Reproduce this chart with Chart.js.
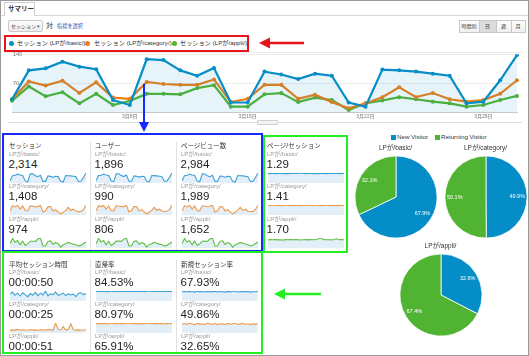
<!DOCTYPE html>
<html><head><meta charset="utf-8">
<script src="https://cdn.jsdelivr.net/npm/chart.js@4.4.0/dist/chart.umd.min.js"></script>
<style>
body{margin:0;background:#fff;}
#wrap{position:relative;width:529px;height:356px;overflow:hidden;font-family:"Liberation Sans",Arial,"Noto Sans CJK JP",sans-serif;color:#222;background:#fff;}
.abs{position:absolute;white-space:nowrap;}
canvas{position:absolute;}
</style></head><body><div id="wrap"></div>
<script>
// ---------- DATA ----------
const dates = ['3月1日','3月2日','3月3日','3月4日','3月5日','3月6日','3月7日','3月8日','3月9日','3月10日','3月11日','3月12日','3月13日','3月14日','3月15日','3月16日','3月17日','3月18日','3月19日','3月20日','3月21日','3月22日','3月23日','3月24日','3月25日','3月26日','3月27日','3月28日','3月29日','3月30日','3月31日'];
const xTickLabels = ['3月8日','3月15日','3月22日','3月29日'];
const yTickValues = [70, 140];
const seriesNames = ['セッション (LPが/basic/)','セッション (LPが/category/)','セッション (LPが/appli/)'];
const segmentNames = ['LPが/basic/','LPが/category/','LPが/appli/'];
const metricNames = ['セッション','ユーザー','ページビュー数','ページ/セッション','平均セッション時間','直帰率','新規セッション率'];

const sessionsBasic    = [31,101,106,122,110,104,29,17,128,126,101,88,107,23,23,98,91,80,93,88,23,13,103,101,98,93,88,21,25,77,138];
const sessionsCategory = [31,74,64,76,46,72,35,32,73,68,66,66,79,24,32,66,66,32,42,24,9,21,36,60,36,46,31,25,29,44,77];
const sessionsAppli    = [27,62,38,48,21,44,17,27,44,44,43,58,65,13,13,43,46,24,35,29,5,21,28,36,31,25,21,13,17,29,39];

const usersBasic    = [26,83,87,100,90,85,25,15,104,103,83,72,88,20,20,80,75,66,76,72,20,12,84,83,80,76,72,18,22,63,112];
const usersCategory = [22,52,45,53,33,50,25,23,51,48,46,46,55,17,23,46,46,23,30,17,7,15,25,42,25,32,22,18,21,31,54];
const usersAppli    = [23,51,32,40,18,37,14,23,37,37,36,48,54,11,11,36,38,20,29,24,5,18,23,30,26,21,18,11,14,24,32];

const pvBasic    = [40,128,138,155,141,135,38,22,163,160,131,112,139,30,29,125,119,104,118,115,30,17,131,128,127,120,113,27,33,99,178];
const pvCategory = [44,104,90,107,66,101,48,46,102,97,92,94,111,33,45,93,92,46,59,35,13,30,51,84,51,64,44,36,40,62,108];
const pvAppli    = [46,104,66,80,36,76,28,46,74,76,72,98,110,22,23,73,79,40,60,50,9,36,47,61,53,43,35,22,29,49,66];

const ppsBasic    = [1.27,1.28,1.30,1.26,1.29,1.31,1.25,1.30,1.27,1.29,1.31,1.28,1.30,1.35,1.28,1.27,1.31,1.30,1.27,1.29,1.26,1.30,1.28,1.27,1.30,1.29,1.28,1.32,1.27,1.29,1.29];
const ppsCategory = [1.42,1.40,1.45,1.38,1.44,1.40,1.36,1.46,1.39,1.43,1.37,1.44,1.40,1.36,1.45,1.41,1.38,1.44,1.39,1.46,1.35,1.42,1.40,1.45,1.38,1.43,1.40,1.37,1.44,1.40,1.43];
const ppsAppli    = [1.65,1.72,1.68,1.75,1.66,1.70,1.62,1.74,1.69,1.71,1.66,1.73,1.68,1.64,1.70,1.72,1.67,1.71,1.69,1.74,1.88,2.05,1.72,1.68,1.70,1.66,1.73,1.90,1.69,1.71,1.68];

const durBasic    = [48,62,40,55,35,58,45,30,52,40,60,38,55,42,70,35,50,44,62,40,45,55,38,50,42,48,30,55,58,45,52];
const durCategory = [18,22,20,25,19,23,21,18,24,20,22,19,23,21,20,24,22,19,70,25,21,45,20,24,65,23,20,22,19,21,23];

const bounceBasic    = [84,86,83,85,84,82,88,85,83,84,86,85,83,87,84,85,84,83,86,84,85,88,83,84,85,84,86,85,83,84,85];
const bounceCategory = [80,82,79,83,81,78,84,80,82,79,83,81,80,84,79,82,81,78,83,80,82,86,79,81,83,80,82,78,81,80,82];

const newRateBasic    = [67,69,66,70,68,65,72,67,69,66,70,68,67,71,66,69,68,65,70,67,69,73,66,68,70,67,69,65,68,67,69];
const newRateCategory = [48,52,47,55,50,46,53,49,51,47,54,50,48,52,46,51,50,47,53,49,51,55,47,50,52,48,51,46,50,49,51];

const totalsBasic    = ['2,314','1,896','2,984','1.29','00:00:50','84.53%','67.93%'];
const totalsCategory = ['1,408','990','1,989','1.41','00:00:25','80.97%','49.86%'];
const totalsAppli    = ['974','806','1,652','1.70','00:00:51','65.91%','32.65%'];

const visitorTypes = ['New Visitor','Returning Visitor'];
const visitorBasic    = [67.9, 32.1];
const visitorCategory = [49.9, 50.1];
const visitorAppli    = [32.6, 67.4];

// ---------- STYLE ----------
const C_BLUE='#058dc7', C_ORANGE='#ed7e17', C_GREEN='#50b432';
const SP_BLUE='#3d9fd6', SP_ORANGE='#ee9a4c', SP_GREEN='#62be45';
const wrap = document.getElementById('wrap');
const FONT = '"Liberation Sans", Arial, "Noto Sans CJK JP", sans-serif';
Chart.defaults.font.family = FONT;

function box(x,y,w,h,style){const d=document.createElement('div');d.className='abs';d.style.cssText+=`left:${x}px;top:${y}px;width:${w}px;height:${h}px;box-sizing:border-box;`+style;wrap.appendChild(d);return d;}
function txt(s,x,y,size,color,extra){const d=document.createElement('div');d.className='abs';d.textContent=s;d.style.cssText+=`left:${x}px;top:${(y-size*0.62).toFixed(1)}px;font-size:${size}px;line-height:${(size*1.2).toFixed(1)}px;color:${color};`+(extra||'');wrap.appendChild(d);return d;}

// outer frame & header
box(0,0,529,356,'border:1px solid #9a9a9a;');
box(1,15,527,1,'background:#d8d8d8;');
box(4,2,31,14,'border:1px solid #cfcfcf;border-bottom:none;background:#fff;');
txt('サマリー',8,9,6.5,'#333','font-weight:bold;');
box(8,20,35,12,'border:1px solid #c8c8c8;border-radius:2px;background:linear-gradient(#fdfdfd,#ececec);');
txt('セッション',11,26,5,'#444');
txt('▾',37,26,5,'#555');
txt('対',46,26,7,'#333');
txt('指標を選択',57,26,5.2,'#1a55b4');
// buttons
const btnW=[20,17,15,14], btnT=['時間別','日','週','月']; let bx=459;
for(let i=0;i<4;i++){box(bx,20,btnW[i]+1,13,'border:1px solid #c8c8c8;background:'+(i===1?'#dcdcdc':'linear-gradient(#fdfdfd,#efefef)')+';');txt(btnT[i],bx+btnW[i]/2,26.5,5,'#333','transform:translateX(-50%);');bx+=btnW[i];}
box(4,52,519,1,'background:#ececec;');

// legend
box(4,35,245,17,'border:2px solid #e8141c;');
const legX=[[11,17],[87,94],[174,180]], legC=[C_BLUE,C_ORANGE,C_GREEN];
for(let i=0;i<3;i++){box(legX[i][0]-2.5,40.5,5,5,'border-radius:50%;background:'+legC[i]+';');txt(seriesNames[i],legX[i][1],43,6.2,'#333');}

// range bar under chart
box(8,122,514,1,'background:#dedede;');
box(257,120,21,5,'border:1px solid #d0d0d0;background:#f4f4f4;border-radius:1px;');

// ---------- MAIN CHART ----------
const mc=document.createElement('canvas');mc.width=529;mc.height=76;mc.style.left='0px';mc.style.top='50px';wrap.appendChild(mc);
new Chart(mc,{type:'line',
 data:{labels:dates,datasets:[
  {label:seriesNames[0],data:sessionsBasic,borderColor:C_BLUE,backgroundColor:'rgba(5,141,199,0.10)',fill:'origin',borderWidth:2.2,pointRadius:2,pointBackgroundColor:C_BLUE,pointBorderWidth:0,tension:0,order:1},
  {label:seriesNames[1],data:sessionsCategory,borderColor:C_ORANGE,backgroundColor:C_ORANGE,fill:false,borderWidth:2.2,pointRadius:2,pointBackgroundColor:C_ORANGE,pointBorderWidth:0,tension:0,order:2},
  {label:seriesNames[2],data:sessionsAppli,borderColor:C_GREEN,backgroundColor:C_GREEN,fill:false,borderWidth:2.2,pointRadius:2,pointBackgroundColor:C_GREEN,pointBorderWidth:0,tension:0,order:3}]},
 options:{responsive:false,animation:false,events:[],
  layout:{padding:{left:12,right:12,top:2,bottom:4}},
  plugins:{legend:{display:false},tooltip:{enabled:false}},
  scales:{
   x:{offset:false,grid:{display:false,drawTicks:false},border:{display:true,color:'#c8c8c8'},
      ticks:{autoSkip:false,maxRotation:0,minRotation:0,padding:2,font:{size:5},color:'#777',
      callback:function(v,i){const l=dates[i];return xTickLabels.includes(l)?l:'';}}},
   y:{min:0,max:140,afterFit:s=>{s.width=0;},border:{display:false},
      grid:{drawTicks:false,color:function(ctx){return ctx.tick&&ctx.tick.value===0?'rgba(0,0,0,0)':'#ececec';}},
      afterBuildTicks:s=>{s.ticks=[0].concat(yTickValues).map(v=>({value:v}));},
      ticks:{mirror:true,padding:1,font:{size:5.5},color:'#777',callback:v=>v===0?'':String(v)}}
  }}});

// ---------- BOXES ----------
box(2,133,261,119,'border:2px solid #1428ff;');
box(263,135,85,118,'border:2px solid #22ee22;');
box(2,251,261,103,'border:2px solid #22ee22;');
box(90,142,1,108,'background:#e2e2e2;');box(176,142,1,108,'background:#e2e2e2;');
box(90,260,1,92,'background:#e2e2e2;');box(176,260,1,92,'background:#e2e2e2;');

function spark(x,y,w,h,data,color){
 const c=document.createElement('canvas');c.width=w;c.height=h;c.style.left=x+'px';c.style.top=y+'px';wrap.appendChild(c);
 new Chart(c,{type:'line',data:{labels:dates,datasets:[{data:data,borderColor:color,borderWidth:1.1,pointRadius:0,fill:'origin',backgroundColor:'#e2eff9',tension:0}]},
  options:{responsive:false,animation:false,events:[],layout:{padding:{top:1,left:0,right:0,bottom:0}},
   plugins:{legend:{display:false},tooltip:{enabled:false}},
   scales:{x:{display:false},y:{display:false,min:0,max:Math.max.apply(null,data)}}}});
}

const tiles=[
 {x:9,y:146,series:[sessionsBasic,sessionsCategory,sessionsAppli],rows:[9,41,74]},
 {x:95,y:146,series:[usersBasic,usersCategory,usersAppli],rows:[9,41,74]},
 {x:181,y:146,series:[pvBasic,pvCategory,pvAppli],rows:[9,41,74]},
 {x:267,y:146,series:[ppsBasic,ppsCategory,ppsAppli],rows:[9,41,74]},
 {x:9,y:265,series:[durBasic,durCategory,null],rows:[8,40,72]},
 {x:95,y:265,series:[bounceBasic,bounceCategory,null],rows:[8,40,72]},
 {x:181,y:265,series:[newRateBasic,newRateCategory,null],rows:[8,40,72]}];
const totals=[totalsBasic,totalsCategory,totalsAppli], spC=[SP_BLUE,SP_ORANGE,SP_GREEN];
tiles.forEach((t,m)=>{
 txt(metricNames[m],t.x,t.y,6.5,'#333');
 for(let r=0;r<3;r++){
  const ly=t.y+t.rows[r];
  txt(segmentNames[r],t.x,ly,6,'#9a9a9a');
  txt(totals[r][m],t.x-0.5,ly+10,11.5,'#222');
  if(t.series[r]) spark(t.x+1,ly+17,76,11,t.series[r],spC[r]);
 }
});

// ---------- PIES ----------
box(391,134.5,5,5,'background:'+C_BLUE+';');txt(visitorTypes[0],397,137,6.2,'#333');
box(435,134.5,5,5,'background:'+C_GREEN+';');txt(visitorTypes[1],441,137,6.2,'#333');
const pieLabelPlugin={id:'pieLabels',afterDatasetsDraw(chart){
 const ctx=chart.ctx;const meta=chart.getDatasetMeta(0);const ds=chart.data.datasets[0].data;
 ctx.save();ctx.fillStyle='#fff';ctx.font='5.5px '+FONT;ctx.textAlign='center';ctx.textBaseline='middle';
 meta.data.forEach((a,i)=>{const mid=(a.startAngle+a.endAngle)/2;const r=a.outerRadius*0.76;ctx.fillText(ds[i].toFixed(1)+'%',a.x+Math.cos(mid)*r,a.y+Math.sin(mid)*r);});
 ctx.restore();}};
function pie(cx,cy,title,vals){
 txt(title,cx,cy-49,6.5,'#333','transform:translateX(-50%);');
 const c=document.createElement('canvas');c.width=86;c.height=86;c.style.left=(cx-43)+'px';c.style.top=(cy-43)+'px';wrap.appendChild(c);
 new Chart(c,{type:'pie',data:{labels:visitorTypes,datasets:[{data:vals,backgroundColor:[C_BLUE,C_GREEN],borderColor:'#fff',borderWidth:0.8}]},
  options:{responsive:false,animation:false,events:[],layout:{padding:1.5},plugins:{legend:{display:false},tooltip:{enabled:false}}},plugins:[pieLabelPlugin]});
}
pie(395.5,196.5,segmentNames[0],visitorBasic);
pie(485.5,197,segmentNames[1],visitorCategory);
pie(440.5,294.5,segmentNames[2],visitorAppli);

// ---------- ARROWS ----------
const ns='http://www.w3.org/2000/svg';
const svg=document.createElementNS(ns,'svg');svg.setAttribute('width','529');svg.setAttribute('height','356');svg.style.cssText='position:absolute;left:0;top:0;pointer-events:none;';
svg.innerHTML=
 '<line x1="304" y1="43" x2="267" y2="43" stroke="#e8141c" stroke-width="2.5"/><polygon points="259,43 270,37.5 270,48.5" fill="#e8141c"/>'+
 '<line x1="144" y1="84" x2="144" y2="124" stroke="#1428ff" stroke-width="2"/><polygon points="144,132 139,122 149,122" fill="#1428ff"/>'+
 '<line x1="321" y1="294" x2="283" y2="294" stroke="#22ee22" stroke-width="2.5"/><polygon points="274,294 285,288.5 285,299.5" fill="#22ee22"/>';
wrap.appendChild(svg);
</script></body></html>
